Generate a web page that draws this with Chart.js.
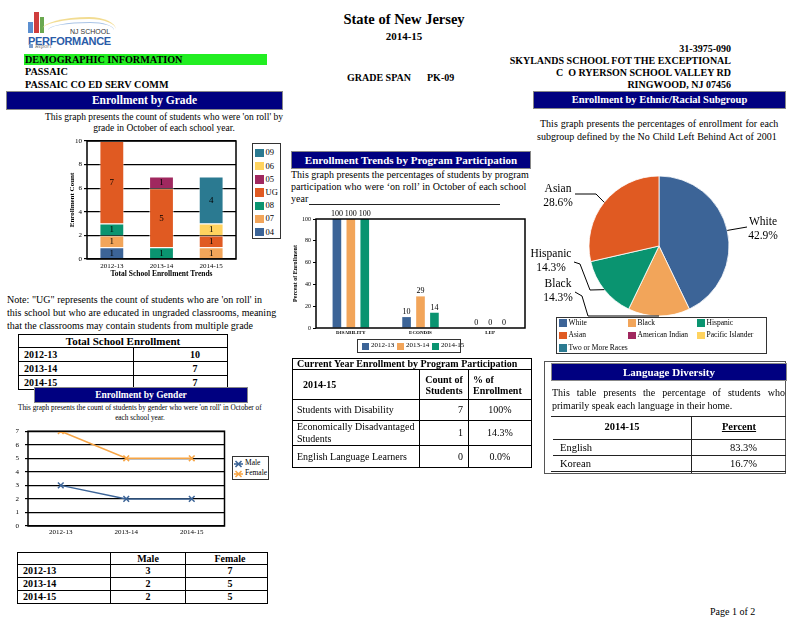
<!DOCTYPE html>
<html>
<head>
<meta charset="utf-8">
<script src="https://cdn.jsdelivr.net/npm/chart.js@4.4.1/dist/chart.umd.min.js"></script>
<style>
body { margin: 0; background: #fff; }
#page { position: relative; width: 800px; height: 618px; overflow: hidden; font-family: "Liberation Serif", "Times New Roman", serif; color: #000; }
#page div, #page canvas, #page table { position: absolute; }
.t { white-space: nowrap; line-height: 1; }
.b { font-weight: bold; }
.hdr { background: #000080; color: #fff; font-weight: bold; text-align: center; border: 1px solid #888; box-sizing: border-box; white-space: nowrap; }
.lbox { border: 1px solid #333; box-sizing: border-box; background: #fff; }
.sw { position: absolute; }
.sw svg { display: block; }
table.tbl { border-collapse: collapse; table-layout: fixed; }
table.tbl td { border: 1.5px solid #000; padding: 0 5px; line-height: 1; font-size: 10px; white-space: nowrap; overflow: hidden; }
.line { height: 0; border-top: 1.5px solid #222; }
</style>
</head>
<body>
<div id="page">

  <!-- logo -->
  <div style="left:28px;top:22px;width:5px;height:11px;background:#5b8fd0"></div>
  <div style="left:34px;top:12px;width:5px;height:21px;background:#cf3d3d"></div>
  <div style="left:40px;top:17px;width:4px;height:16px;background:#6aa84f"></div>
  <div style="left:42px;top:17px;width:74px;height:12px;border-top:2px solid #f2dc92;border-radius:70% 40% 0 0 / 100% 100% 0 0"></div>
  <div style="left:48px;top:22px;width:66px;height:8px;border-top:1px solid #a9c4e6;border-radius:70% 40% 0 0 / 100% 100% 0 0"></div>
  <div class="t" style="left:70px;top:28px;font:7px 'Liberation Sans';color:#333">NJ SCHOOL</div>
  <div class="t" style="left:28px;top:35px;font:bold 11px 'Liberation Sans';color:#2a5ca8;letter-spacing:-0.3px">PERFORMANCE</div>
  <div style="left:29px;top:44px;width:4px;height:4px;background:#7a9ccc"></div>
  <div class="t" style="left:35px;top:43px;font:italic 6px 'Liberation Serif';color:#777">Report</div>

  <!-- page heading -->
  <div class="t b" style="left:4px;width:800px;text-align:center;top:12px;font-size:14.5px">State of New Jersey</div>
  <div class="t b" style="left:4px;width:800px;text-align:center;top:31px;font-size:11px">2014-15</div>

  <div style="left:24px;top:54px;width:243px;height:11px;background:#22ee22"></div>
  <div class="t b" style="left:25px;top:54px;font-size:10.2px;line-height:12px">DEMOGRAPHIC INFORMATION</div>
  <div class="t b" style="left:25px;top:67px;font-size:10.2px">PASSAIC</div>
  <div class="t b" style="left:25px;top:80px;font-size:10.2px">PASSAIC CO ED SERV COMM</div>
  <div class="t b" style="left:347px;top:73px;font-size:10px">GRADE SPAN</div>
  <div class="t b" style="left:427px;top:73px;font-size:10px">PK-09</div>

  <div class="t b" style="right:69px;top:44px;font-size:10px;text-align:right">31-3975-090</div>
  <div class="t b" style="right:69px;top:56px;font-size:10px;text-align:right">SKYLANDS SCHOOL FOT THE EXCEPTIONAL</div>
  <div class="t b" style="right:69px;top:68px;font-size:10px;text-align:right">C&nbsp; O RYERSON SCHOOL VALLEY RD</div>
  <div class="t b" style="right:69px;top:80px;font-size:10px;text-align:right">RINGWOOD, NJ 07456</div>

  <!-- enrollment by grade -->
  <div class="hdr" style="left:6px;top:91px;width:277px;height:19px;font-size:11.5px;line-height:17px">Enrollment by Grade</div>
  <div class="t fit" data-w="238" style="left:45px;top:113px;font-size:9.5px">This graph presents the count of students who were 'on roll' by</div>
  <div class="t" style="left:45px;width:238px;text-align:center;top:124px;font-size:9.5px">grade in October of each school year.</div>
  <canvas id="gradeChart" width="180" height="151" style="left:60px;top:132px"></canvas>
  <div id="gradeLegend" class="lbox" style="left:252px;top:143px;width:29px;height:96px"></div>

  <div class="t fit" data-w="255" style="left:7px;top:295px;font-size:10px">Note: "UG" represents the count of students who are 'on roll' in</div>
  <div class="t fit" data-w="269" style="left:7px;top:308px;font-size:10px">this school but who are educated in ungraded classrooms, meaning</div>
  <div class="t" style="left:7px;top:321px;font-size:10px">that the classrooms may contain students from multiple grade</div>

  <table class="tbl" style="left:18px;top:334px;width:209px">
    <colgroup><col style="width:115px"><col style="width:94px"></colgroup>
    <tr style="height:13px"><td colspan="2" class="b" style="text-align:center;font-size:11px">Total School Enrollment</td></tr>
    <tr style="height:14px"><td class="b">2012-13</td><td class="b" style="text-align:center;padding-left:34px">10</td></tr>
    <tr style="height:14px"><td class="b">2013-14</td><td class="b" style="text-align:center;padding-left:34px">7</td></tr>
    <tr style="height:14px"><td class="b">2014-15</td><td class="b" style="text-align:center;padding-left:34px">7</td></tr>
  </table>

  <!-- enrollment by gender -->
  <div class="hdr" style="left:34px;top:387px;width:214px;height:16px;font-size:9.5px;line-height:14px">Enrollment by Gender</div>
  <div class="t fit" data-w="244" style="left:18px;top:405px;font-size:7.25px">This graph presents the count of students by gender who were 'on roll' in October of</div>
  <div class="t" style="left:18px;width:244px;text-align:center;top:415px;font-size:7.25px">each school year.</div>
  <canvas id="genderChart" width="220" height="118" style="left:10px;top:421px"></canvas>
  <div id="genderLegend" class="lbox" style="left:232px;top:456px;width:37px;height:24px"></div>

  <table class="tbl" style="left:17px;top:552px;width:250px">
    <colgroup><col style="width:93px"><col style="width:75px"><col style="width:82px"></colgroup>
    <tr style="height:12px"><td></td><td class="b" style="text-align:center">Male</td><td class="b" style="text-align:center;padding-left:12px">Female</td></tr>
    <tr style="height:13px"><td class="b">2012-13</td><td class="b" style="text-align:center">3</td><td class="b" style="text-align:center;padding-left:12px">7</td></tr>
    <tr style="height:13px"><td class="b">2013-14</td><td class="b" style="text-align:center">2</td><td class="b" style="text-align:center;padding-left:12px">5</td></tr>
    <tr style="height:13px"><td class="b">2014-15</td><td class="b" style="text-align:center">2</td><td class="b" style="text-align:center;padding-left:12px">5</td></tr>
  </table>

  <!-- program participation -->
  <div class="hdr" style="left:291px;top:151px;width:240px;height:18px;font-size:11px;line-height:16px">Enrollment Trends by Program Participation</div>
  <div class="t fit" data-w="238" style="left:291px;top:170px;font-size:10px">This graph presents the percentages of students by program</div>
  <div class="t fit" data-w="235" style="left:291px;top:182px;font-size:10px">participation who were ‘on roll’ in October of each school</div>
  <div class="t" style="left:291px;top:194px;font-size:10px">year</div>
  <div class="line" style="left:309px;top:204px;width:191px;border-top-width:1px"></div>
  <canvas id="programChart" width="245" height="132" style="left:285px;top:208px"></canvas>
  <div id="programLegend" class="lbox" style="left:357px;top:339px;width:104px;height:14px"></div>

  <table class="tbl" style="left:292px;top:358px;width:239px">
    <colgroup><col style="width:127px"><col style="width:49px"><col style="width:63px"></colgroup>
    <tr style="height:11px"><td colspan="3" class="b" style="padding-left:4px">Current Year Enrollment by Program Participation</td></tr>
    <tr style="height:30px"><td class="b" style="padding-left:10px">2014-15</td><td class="b" style="text-align:center;line-height:11px;padding:0">Count of<br>Students</td><td class="b" style="padding-left:4px;line-height:11px">% of<br>Enrollment</td></tr>
    <tr style="height:21px"><td style="padding-left:4px">Students with Disability</td><td style="text-align:right">7</td><td style="text-align:center">100%</td></tr>
    <tr style="height:23px"><td style="padding-left:4px;line-height:12px">Economically Disadvantaged<br>Students</td><td style="text-align:right">1</td><td style="text-align:center">14.3%</td></tr>
    <tr style="height:22px"><td style="padding-left:4px">English Language Learners</td><td style="text-align:right">0</td><td style="text-align:center">0.0%</td></tr>
  </table>

  <!-- ethnic / racial subgroup -->
  <div class="hdr" style="left:533px;top:91px;width:253px;height:18px;font-size:10.5px;line-height:16px">Enrollment by Ethnic/Racial Subgroup</div>
  <div class="t fit" data-w="238" style="left:540px;top:119px;font-size:10px">This graph presents the percentages of enrollment for each</div>
  <div class="t fit" data-w="240" style="left:537px;top:132px;font-size:10px">subgroup defined by the No Child Left Behind Act of 2001</div>
  <canvas id="ethnicChart" width="258" height="152" style="left:530px;top:170px"></canvas>
  <div id="ethnicLegend" class="lbox" style="left:556px;top:317px;width:211px;height:37px"></div>

  <!-- language diversity -->
  <div style="left:544px;top:361px;width:242px;height:113px;border:1px solid #555;box-sizing:border-box"></div>
  <div class="hdr" style="left:551px;top:363px;width:236px;height:18px;font-size:11px;line-height:16px">Language Diversity</div>
  <div style="left:552px;top:386px;width:233px;font-size:10px;line-height:13px;text-align:justify;text-align-last:left">This table presents the percentage of students who primarily speak each language in their home.</div>
  <div class="line" style="left:551px;top:416px;width:235px"></div>
  <div class="line" style="left:553px;top:439px;width:233px;border-top-width:1px"></div>
  <div class="line" style="left:553px;top:455px;width:233px;border-top-width:1px"></div>
  <div class="line" style="left:551px;top:471px;width:235px"></div>
  <div style="left:691px;top:416px;width:0;height:57px;border-left:1.5px solid #222"></div>
  <div class="t b" style="left:553px;width:138px;text-align:center;top:422px;font-size:10.5px">2014-15</div>
  <div class="t b" style="left:692px;width:94px;text-align:center;top:422px;font-size:10.5px;text-decoration:underline">Percent</div>
  <div class="t" style="left:560px;top:443px;font-size:10.5px">English</div>
  <div class="t" style="left:692px;width:65px;text-align:right;top:443px;font-size:10.5px">83.3%</div>
  <div class="t" style="left:560px;top:459px;font-size:10.5px">Korean</div>
  <div class="t" style="left:692px;width:65px;text-align:right;top:459px;font-size:10.5px">16.7%</div>

  <div class="t" style="left:710px;top:607px;font-size:10px">Page 1 of 2</div>
</div>

<script>
// school years on the x axes
const years = ['2012-13', '2013-14', '2014-15'];

// enrollment by grade (stack order bottom -> top)
const gradeNames = ['04', '07', '08', 'UG', '05', '06', '09'];
const grade04 = [1, null, null];
const grade07 = [1, null, 1];
const grade08 = [1, 1, null];
const gradeUG = [7, 5, 1];
const grade05 = [null, 1, null];
const grade06 = [null, null, 1];
const grade09 = [null, null, 4];
const gradeColors = ['#3c6497', '#f2a55a', '#0a9470', '#e05a22', '#a0285f', '#ffd35f', '#2b7a91'];

// enrollment by gender
const maleCounts = [3, 2, 2];
const femaleCounts = [7, 5, 5];

// program participation (percent)
const programs = ['DISABILITY', 'ECONDIS', 'LEP'];
const program1213 = [100, 10, 0];
const program1314 = [100, 29, 0];
const program1415 = [100, 14, 0];
const yearColors = ['#3c6497', '#f2a55a', '#0a9470'];

// ethnic / racial subgroup (percent)
const ethnicGroups = ['White', 'Black', 'Hispanic', 'Asian', 'American Indian', 'Pacific Islander', 'Two or More Races'];
const ethnicPercents = [42.9, 14.3, 14.3, 28.6, 0, 0, 0];
const ethnicColors = ['#3c6497', '#f2a55a', '#0a9470', '#e05a22', '#a0285f', '#ffd35f', '#2b7a91'];

// stretch single text lines to the widths seen in the report
document.querySelectorAll('.fit').forEach(el => {
  const gaps = (el.textContent.match(/ /g) || []).length;
  const extra = Number(el.dataset.w) - el.offsetWidth;
  if (gaps) el.style.wordSpacing = (extra / gaps) + 'px';
});

const SERIF = '"Liberation Serif", "Times New Roman", serif';
Chart.defaults.font.family = SERIF;
Chart.defaults.color = '#000';

// numbers on the bars
const valueLabels = {
  id: 'valueLabels',
  afterDatasetsDraw(chart, args, opts) {
    if (!opts.mode) return;
    const ctx = chart.ctx;
    ctx.save();
    ctx.font = opts.font;
    ctx.fillStyle = '#000';
    ctx.textAlign = 'center';
    chart.data.datasets.forEach((ds, i) => {
      chart.getDatasetMeta(i).data.forEach((bar, j) => {
        const v = ds.data[j];
        if (v === null || v === undefined) return;
        if (opts.mode === 'inside') {
          ctx.textBaseline = 'middle';
          ctx.fillText(v, bar.x, (bar.y + bar.base) / 2 + 0.5);
        } else {
          ctx.textBaseline = 'bottom';
          ctx.fillText(v, bar.x, bar.y - 1);
        }
      });
    });
    ctx.restore();
  }
};

// box round the plot area
const frame = {
  id: 'frame',
  afterDraw(chart, args, opts) {
    const { left, top, right, bottom } = chart.chartArea;
    const ctx = chart.ctx;
    ctx.save();
    ctx.strokeStyle = '#000';
    ctx.lineWidth = opts.width || 1.5;
    ctx.strokeRect(left, top, right - left, bottom - top);
    ctx.restore();
  }
};

// outside labels with leader lines for the pie
const pieLabels = {
  id: 'pieLabels',
  afterDraw(chart, args, opts) {
    const ctx = chart.ctx;
    const meta = chart.getDatasetMeta(0);
    const values = chart.data.datasets[0].data;
    ctx.save();
    ctx.font = opts.font;
    ctx.fillStyle = '#000';
    ctx.strokeStyle = '#000';
    ctx.lineWidth = 1;
    ctx.textAlign = 'center';
    ctx.textBaseline = 'middle';
    meta.data.forEach((arc, i) => {
      const spot = opts.spots[i];
      if (!values[i] || !spot) return;
      const mid = (arc.startAngle + arc.endAngle) / 2;
      ctx.beginPath();
      ctx.moveTo(arc.x + Math.cos(mid) * arc.outerRadius, arc.y + Math.sin(mid) * arc.outerRadius);
      spot.path.forEach(p => ctx.lineTo(arc.x + p[0], arc.y + p[1]));
      ctx.stroke();
      ctx.fillText(chart.data.labels[i], arc.x + spot.text[0], arc.y + spot.text[1] - 7);
      ctx.fillText(values[i].toFixed(1) + '%', arc.x + spot.text[0], arc.y + spot.text[1] + 7);
    });
    ctx.restore();
  }
};

const gradeSeries = [grade04, grade07, grade08, gradeUG, grade05, grade06, grade09];

new Chart(document.getElementById('gradeChart'), {
  type: 'bar',
  data: {
    labels: years,
    datasets: gradeNames.map((name, i) => ({
      label: name,
      data: gradeSeries[i],
      backgroundColor: gradeColors[i],
      borderColor: 'rgba(255,255,255,0.5)',
      borderWidth: 1,
      barPercentage: 0.5,
      categoryPercentage: 1
    }))
  },
  options: {
    responsive: false,
    animation: false,
    layout: { padding: { top: 9, right: 4, left: 0, bottom: 0 } },
    plugins: {
      legend: { display: false },
      tooltip: { enabled: false },
      valueLabels: { mode: 'inside', font: '9px ' + SERIF },
      frame: { width: 1.5 }
    },
    scales: {
      x: {
        stacked: true,
        grid: { display: false, drawTicks: false },
        border: { display: false },
        ticks: { font: { size: 7 }, padding: 3 },
        title: { display: true, text: 'Total School Enrollment Trends', font: { size: 7.5, weight: 'bold' }, padding: { top: 0, bottom: 4 } },
        afterFit: s => { s.height = 24; }
      },
      y: {
        stacked: true,
        min: 0,
        max: 10,
        ticks: { stepSize: 2, font: { size: 7 }, padding: 2 },
        grid: { color: '#000', lineWidth: 1.2, tickLength: 3 },
        border: { display: false },
        title: { display: true, text: 'Enrollment Count', font: { size: 7, weight: 'bold' }, padding: { top: 8, bottom: 0 } },
        afterFit: s => { s.width = 27; }
      }
    }
  },
  plugins: [valueLabels, frame]
});

new Chart(document.getElementById('genderChart'), {
  type: 'line',
  data: {
    labels: years,
    datasets: [
      { label: 'Male', data: maleCounts, borderColor: '#3c6497', backgroundColor: '#3c6497', pointStyle: 'crossRot', pointRadius: 4, pointBorderWidth: 1.5, borderWidth: 1.5 },
      { label: 'Female', data: femaleCounts, borderColor: '#f7a545', backgroundColor: '#f7a545', pointStyle: 'crossRot', pointRadius: 4, pointBorderWidth: 1.5, borderWidth: 1.5 }
    ]
  },
  options: {
    responsive: false,
    animation: false,
    layout: { padding: { top: 6, right: 4, left: 0, bottom: 0 } },
    plugins: { legend: { display: false }, tooltip: { enabled: false }, frame: { width: 1.5 } },
    scales: {
      x: {
        offset: true,
        grid: { display: false, drawTicks: false },
        border: { display: false },
        ticks: { font: { size: 7 }, padding: 2 },
        afterFit: s => { s.height = 13; }
      },
      y: {
        min: 0,
        max: 7,
        ticks: { stepSize: 1, font: { size: 7 }, padding: 6 },
        grid: { color: '#000', lineWidth: 1.2, tickLength: 3 },
        border: { display: false },
        afterFit: s => { s.width = 18; }
      }
    }
  },
  plugins: [frame]
});

const programSeries = [program1213, program1314, program1415];

new Chart(document.getElementById('programChart'), {
  type: 'bar',
  data: {
    labels: programs,
    datasets: years.map((y, i) => ({
      label: y,
      data: programSeries[i],
      backgroundColor: yearColors[i],
      barPercentage: 0.62,
      categoryPercentage: 0.6
    }))
  },
  options: {
    responsive: false,
    animation: false,
    layout: { padding: { top: 11, right: 5, left: 0, bottom: 0 } },
    plugins: {
      legend: { display: false },
      tooltip: { enabled: false },
      valueLabels: { mode: 'top', font: '8px ' + SERIF },
      frame: { width: 1.5 }
    },
    scales: {
      x: {
        grid: { display: false, drawTicks: false },
        border: { display: false },
        ticks: { font: { size: 5, weight: 'bold' }, padding: 2 },
        afterFit: s => { s.height = 12; }
      },
      y: {
        min: 0,
        max: 100,
        ticks: { stepSize: 20, font: { size: 6 }, padding: 2 },
        grid: { drawOnChartArea: false, color: '#000', tickLength: 3 },
        border: { display: false },
        title: { display: true, text: 'Percent of Enrollment', font: { size: 6, weight: 'bold' }, padding: { top: 7, bottom: 0 } },
        afterFit: s => { s.width = 31; }
      }
    }
  },
  plugins: [valueLabels, frame]
});

new Chart(document.getElementById('ethnicChart'), {
  type: 'pie',
  data: {
    labels: ethnicGroups,
    datasets: [{ data: ethnicPercents, backgroundColor: ethnicColors, borderColor: '#fff', borderWidth: 0.8, radius: 70 }]
  },
  options: {
    responsive: false,
    animation: false,
    layout: { padding: 0 },
    plugins: {
      legend: { display: false },
      tooltip: { enabled: false },
      pieLabels: {
        font: '11.5px ' + SERIF,
        spots: [
          { path: [[88, -19]], text: [104, -17] },
          { path: [[-71, 70], [-77, 50], [-84, 46]], text: [-101, 45] },
          { path: [[-69, 44], [-79, 18], [-85, 16]], text: [-108, 15] },
          { path: [[-63, -52], [-84, -52]], text: [-101, -50] }
        ]
      }
    }
  },
  plugins: [pieLabels]
});

// legends
function legendItem(box, x, y, color, text, size, font, cross) {
  const sw = document.createElement('div');
  sw.className = 'sw';
  if (cross) {
    sw.style.cssText = `left:${x}px;top:${y - 4}px;width:9px;height:8px;`;
    sw.innerHTML = `<svg width="9" height="8"><path d="M1.5 1L7.5 7M7.5 1L1.5 7M0 4H9" stroke="${color}" stroke-width="1.6" fill="none"/></svg>`;
  } else {
    sw.style.cssText = `left:${x}px;top:${y - size / 2}px;width:${size}px;height:${size}px;background:${color}`;
  }
  box.appendChild(sw);
  const tx = document.createElement('div');
  tx.className = 't';
  tx.style.cssText = `left:${x + size + 2}px;top:${y - font * 0.55}px;font-size:${font}px`;
  tx.textContent = text;
  box.appendChild(tx);
}

const gl = document.getElementById('gradeLegend');
gradeNames.slice().reverse().forEach((name, i) => {
  legendItem(gl, 2, 9 + i * 13.2, gradeColors[gradeNames.length - 1 - i], name, 8.5, 8.5);
});

const sl = document.getElementById('genderLegend');
legendItem(sl, 1, 6.5, '#3c6497', 'Male', 9, 7.5, true);
legendItem(sl, 1, 16.5, '#f7a545', 'Female', 9, 7.5, true);

const pl = document.getElementById('programLegend');
years.forEach((y, i) => legendItem(pl, 4 + i * 35, 6, yearColors[i], y, 7, 7));

const el = document.getElementById('ethnicLegend');
ethnicGroups.forEach((g, i) => {
  legendItem(el, 2 + (i % 3) * 69, 5 + Math.floor(i / 3) * 12.5, ethnicColors[i], g, 7.5, 7.5);
});
</script>
</body>
</html>
